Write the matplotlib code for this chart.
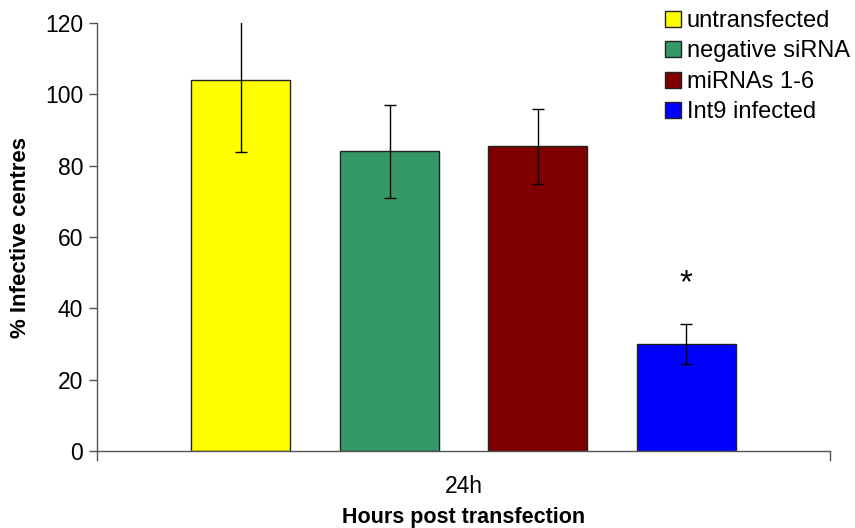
import matplotlib
matplotlib.use("Agg")
import matplotlib.pyplot as plt
import numpy as np

plt.rcParams['font.family'] = ['Liberation Sans', 'DejaVu Sans']

groups = ["untransfected", "negative siRNA", "miRNAs 1-6", "Int9 infected"]
values = [104.0, 84.0, 85.4, 30.0]
errors = [20.2, 13.0, 10.6, 5.7]
colors = ["#FFFF00", "#339966", "#800000", "#0000FF"]
category = "24h"
sig_marker = "*"
sig_height = 47.0

fig = plt.figure(figsize=(8.55, 5.28), dpi=100)
ax = fig.add_axes([0.1135, 0.1458, 0.8573, 0.8106])

centers = [0.196, 0.399, 0.601, 0.804]
width = 0.135
for c, v, e, col, lab in zip(centers, values, errors, colors, groups):
    ax.bar(c, v, width=width, color=col, edgecolor="#222222", linewidth=1.0, label=lab, zorder=2)
    ax.errorbar(c, v, yerr=e, fmt="none", ecolor="black", elinewidth=1.0,
                capsize=4, capthick=1.0, zorder=3)

ax.text(centers[3], sig_height, sig_marker, ha="center", va="center", fontsize=24)

ax.set_xlim(0, 1)
ax.set_ylim(0, 120)
ax.set_yticks(np.arange(0, 121, 20))
ax.tick_params(axis="y", direction="out", length=6, width=1, color="#555555",
               labelsize=16.5, pad=4)
ax.set_xticks([0, 1])
ax.set_xticklabels(["", ""])
ax.tick_params(axis="x", direction="out", length=7, width=1, color="#555555")
ax.text(0.5, -0.083, category, transform=ax.transAxes, ha="center", va="center", fontsize=16.5)

for s in ["top", "right"]:
    ax.spines[s].set_visible(False)
for s in ["left", "bottom"]:
    ax.spines[s].set_color("#555555")
    ax.spines[s].set_linewidth(1.0)

ax.set_ylabel("% Infective centres", fontsize=16, fontweight="bold", labelpad=10)
ax.set_xlabel("Hours post transfection", fontsize=15.5, fontweight="bold", labelpad=30)

leg = fig.legend(loc="upper left", bbox_to_anchor=(665 / 855, 1 - 10 / 528), frameon=False,
                 fontsize=17, handlelength=0.68, handleheight=0.68,
                 handletextpad=0.25, labelspacing=0.36, borderpad=0, borderaxespad=0)

fig.savefig("out.png", dpi=100)
